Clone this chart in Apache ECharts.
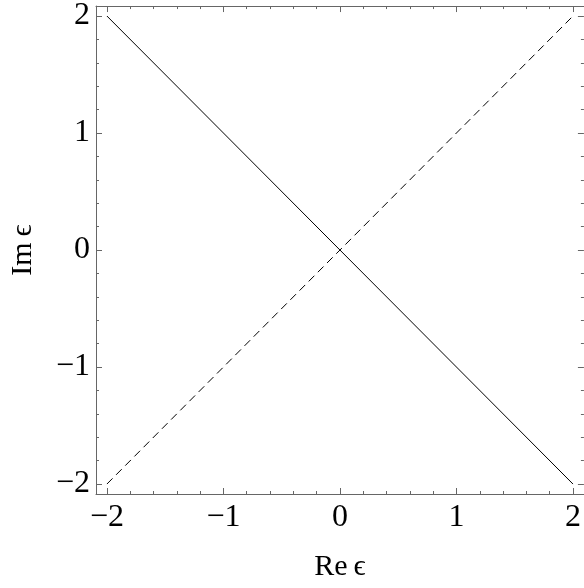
<!DOCTYPE html>
<html><head><meta charset="utf-8">
<script src="https://cdn.jsdelivr.net/npm/echarts@6/dist/echarts.min.js"></script>
<style>html,body{margin:0;padding:0;background:#fff}#c{width:584px;height:588px}</style>
</head><body><div id="c"></div>
<script>
var solidLine = [[-2, 2], [2, -2]];
var dashedLine = [[-2, -2], [2, 2]];
var majorTicks = [-2, -1, 0, 1, 2];
var tickLabels = ['\u22122', '\u22121', '0', '1', '2'];
var xName = 'Re\u2009\u03f5';
var yName = 'Im\u2009\u03f5';

var minorTicks = [];
for (var i = -10; i <= 10; i++) { if (i % 5 !== 0) minorTicks.push(i / 5); }
var font = 'Liberation Serif';
var frameColor = '#666';
var lim = 2.0936, limY = 2.085;
function fmt(v) { var k = majorTicks.indexOf(Math.round(v)); return k >= 0 ? tickLabels[k] : ''; }
function axis(pos, values, len, showLine, showLabel, name, lo, hi, gap) {
  var a = {
    type: 'value', position: pos, min: lo, max: hi,
    axisLine: { show: showLine, onZero: false, lineStyle: { color: frameColor, width: 1 } },
    axisTick: { show: true, inside: true, length: len, customValues: values, lineStyle: { color: frameColor, width: 1 } },
    axisLabel: { show: showLabel, customValues: majorTicks, formatter: fmt, fontFamily: font, fontSize: 32, color: '#000', margin: pos === 'left' ? 6 : 8 },
    splitLine: { show: false }
  };
  if (name) {
    a.name = name; a.nameLocation = 'middle'; a.nameGap = gap;
    a.nameTextStyle = { fontFamily: font, fontSize: 30, color: '#000' };
  }
  return a;
}
var chart = echarts.init(document.getElementById('c'));
chart.setOption({
  animation: false,
  grid: { left: 96, top: 4, width: 492, height: 490, containLabel: false },
  xAxis: [
    axis('bottom', majorTicks, 6, true, true, xName, -lim, lim, 58),
    axis('bottom', minorTicks, 3, false, false, null, -lim, lim),
    axis('top', majorTicks, 6, true, false, null, -lim, lim),
    axis('top', minorTicks, 3, false, false, null, -lim, lim)
  ],
  yAxis: [
    axis('left', majorTicks, 6, true, true, yName, -limY, limY, 58),
    axis('left', minorTicks, 3, false, false, null, -limY, limY),
    axis('right', majorTicks, 6, true, false, null, -limY, limY),
    axis('right', minorTicks, 3, false, false, null, -limY, limY)
  ],
  series: [
    { type: 'line', data: solidLine, xAxisIndex: 0, yAxisIndex: 0, symbol: 'none', lineStyle: { color: '#000', width: 1 } },
    { type: 'line', data: dashedLine, xAxisIndex: 0, yAxisIndex: 0, symbol: 'none', lineStyle: { color: '#000', width: 1, type: [8, 5] } }
  ]
});
</script></body></html>
